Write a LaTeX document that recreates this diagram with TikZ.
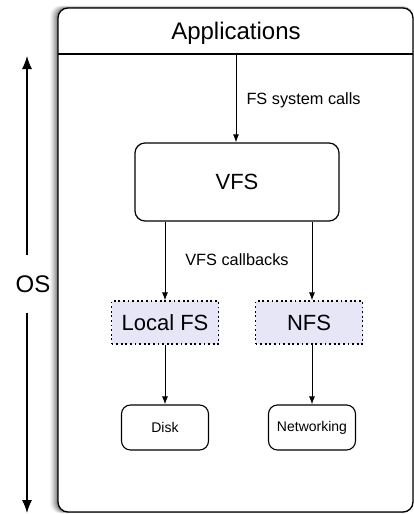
\documentclass[tikz,border=0pt]{standalone}
\usepackage{fontspec}
\setmainfont{Liberation Sans}
\usetikzlibrary{arrows.meta}
\definecolor{fslav}{HTML}{E6E6F6}
\tikzset{
  huge/.style={font=\fontsize{24}{28}\selectfont},
  big/.style={font=\fontsize{22}{26}\selectfont},
  small/.style={font=\fontsize{16.3}{19}\selectfont},
  tiny/.style={font=\fontsize{14}{16}\selectfont},
  conn/.style={line width=1pt,-{Latex[length=8pt,width=6pt]}},
  osconn/.style={line width=1.1pt,-{Latex[length=13pt,width=10pt]}},
  roundbox/.style={draw,line width=1.2pt,rounded corners=10pt,inner sep=0pt},
  fsbox/.style={draw,line width=1.1pt,dash pattern=on 1.8pt off 2.8pt,fill=fslav,inner sep=0pt,minimum width=107pt,minimum height=43pt,big},
  leaf/.style={draw,line width=1.1pt,rounded corners=9pt,inner sep=0pt,minimum width=87pt,minimum height=45pt,tiny},
}
\begin{document}
\begin{tikzpicture}[x=1pt,y=-1pt]
\useasboundingbox (0,0) rectangle (414,514);
% shadow of the outer box
\foreach \d/\o in {8/0.04,7/0.05,6/0.06,5/0.07,4/0.08,3/0.1,2/0.12,1/0.15}{
  \fill[black,opacity=\o,rounded corners=10pt] (58-\d,8-\d*0.3) rectangle (413,512+\d*0.15);
}
\fill[white,rounded corners=10pt] (58,8) rectangle (413,512);
\draw[line width=1.3pt,rounded corners=10pt] (58,8) rectangle (413,512);
\draw[line width=1.3pt] (58,54) -- (413,54);
\node[huge] (apps) at (236,33) {Applications};
\coordinate (appsb) at (236,54);
% VFS
\node[roundbox,big,minimum width=204pt,minimum height=78pt] (vfs) at (237,182) {VFS};
\draw[conn] (appsb) -- (vfs.north -| appsb);
\node[small,anchor=west] (fslbl) at (243,100) {FS system calls};
% FS boxes
\node[fsbox] (local) at (165,322.5) {Local FS};
\node[fsbox] (nfs) at (309,322.5) {NFS};
\draw[conn] (vfs.south -| local) -- (local.north);
\draw[conn] (vfs.south -| 312,0) -- (local.north -| 312,0);
\node[small] (cblbl) at (237,260) {VFS callbacks};
% leaves
\node[leaf] (disk) at (165,427.5) {Disk};
\node[leaf] (net) at (312,427.5) {Networking};
\draw[conn] (local.south) -- (disk.north);
\draw[conn] (nfs.south -| net) -- (net.north);
% OS arrow
\coordinate (ostop) at (27,56);
\coordinate (osbot) at (27,513);
\node[huge,fill=white,inner sep=0pt,minimum height=58pt] (os) at (33,284) {OS};
\draw[osconn] (os.north -| ostop) -- (ostop);
\draw[osconn] (os.south -| osbot) -- (osbot);
\end{tikzpicture}
\end{document}
